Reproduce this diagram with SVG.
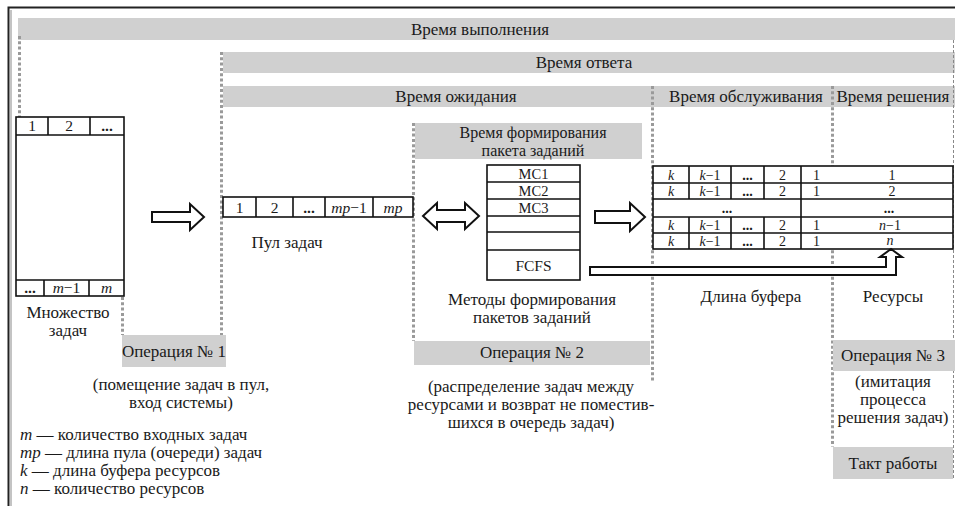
<svg xmlns="http://www.w3.org/2000/svg" width="955" height="506" viewBox="0 0 955 506">
<style>
text{font-family:"Liberation Serif","Times New Roman",serif;fill:#1a1a1a;font-size:17px}
.c{text-anchor:middle}
.s{font-size:15.5px}
.t{font-size:14px}
.m{font-size:14.5px}
.i{font-style:italic}
.b{font-weight:bold}
.bar{fill:#d0d0d0}
.dot{stroke:#9a9a9a;stroke-width:3;stroke-dasharray:3 2.3;fill:none}
.box{fill:#fff;stroke:#111;stroke-width:1.6}
.ln{stroke:#111;stroke-width:1.6;fill:none}
.arr{fill:#fff;stroke:#111;stroke-width:2;stroke-linejoin:miter}
</style>
<rect width="955" height="506" fill="#fff"/>
<!-- frame -->
<g id="frame">
<path d="M8.5,506 V7.5 H955" fill="none" stroke="#222" stroke-width="2"/>
<path d="M11,506 V10" fill="none" stroke="#888" stroke-width="1"/>
</g>
<!-- time bars -->
<g id="bar-execution">
<rect class="bar" x="18" y="18" width="937" height="22"/>
<text class="c" x="480" y="35">Время выполнения</text>
</g>
<g id="bar-response">
<rect class="bar" x="223" y="52" width="732" height="21"/>
<text class="c" x="584" y="68">Время ответа</text>
</g>
<g id="bar-wait">
<rect class="bar" x="223" y="86" width="732" height="21"/>
<text class="c" x="456" y="102">Время ожидания</text>
<text class="c" x="746" y="102">Время обслуживания</text>
<text class="c" x="893" y="102">Время решения</text>
</g>
<g id="bar-forming">
<rect class="bar" x="415" y="123" width="227" height="36"/>
<text class="c" x="533" y="138" style="font-size:16px">Время формирования</text>
<text class="c" x="533" y="156" style="font-size:16px">пакета заданий</text>
</g>
<!-- dotted guide lines -->
<g id="guides">
<line class="dot" x1="19.5" y1="36" x2="19.5" y2="117"/>
<line class="dot" x1="221.5" y1="52" x2="221.5" y2="335"/>
<line class="dot" x1="122.5" y1="297" x2="122.5" y2="335"/>
<line class="dot" x1="413.5" y1="123" x2="413.5" y2="341"/>
<line class="dot" x1="652.5" y1="86" x2="652.5" y2="382"/>
<line class="dot" x1="832.5" y1="86" x2="832.5" y2="447"/>
<line x1="953.5" y1="40" x2="953.5" y2="479" stroke="#888" stroke-width="1" stroke-dasharray="3 2"/>
</g>
<!-- task set -->
<g id="task-set">
<rect class="box" x="16" y="117" width="108" height="179"/>
<path class="ln" d="M16,135 H124 M48,117 V135 M90,117 V135 M16,280 H124 M44,280 V296 M89,280 V296"/>
<text class="c s" x="32" y="131">1</text>
<text class="c s" x="69" y="131">2</text>
<text class="c s b" x="107" y="131">...</text>
<text class="c s b" x="30" y="293">...</text>
<text class="c s" x="66.5" y="293"><tspan class="i">m</tspan>−1</text>
<text class="c s i" x="106.5" y="293">m</text>
<text class="c" x="68" y="318">Множество</text>
<text class="c" x="68" y="336">задач</text>
</g>
<!-- pool -->
<g id="pool">
<rect class="box" x="223" y="197" width="190" height="20"/>
<path class="ln" d="M256,197 V217 M293,197 V217 M325,197 V217 M373,197 V217"/>
<text class="c s" x="239.5" y="213">1</text>
<text class="c s" x="274.5" y="213">2</text>
<text class="c s b" x="309" y="213">...</text>
<text class="c s" x="349" y="213"><tspan class="i">mp</tspan>−1</text>
<text class="c s i" x="393" y="213">mp</text>
<text class="c" x="287" y="248">Пул задач</text>
</g>
<!-- methods -->
<g id="methods">
<rect class="box" x="487" y="165" width="93" height="115"/>
<path class="ln" d="M487,182 H580 M487,199 H580 M487,216 H580 M487,232 H580 M487,250 H580"/>
<text class="c m" x="533.5" y="178.5">MC1</text>
<text class="c m" x="533.5" y="195.5">MC2</text>
<text class="c m" x="533.5" y="212.5">MC3</text>
<text class="c s" x="533.5" y="271">FCFS</text>
<text class="c" x="532" y="305">Методы формирования</text>
<text class="c" x="532" y="323">пакетов заданий</text>
</g>
<!-- buffer / resources -->
<g id="buffer">
<rect class="box" x="653" y="166" width="300" height="83"/>
<path class="ln" d="M653,183 H953 M653,199 H953 M653,217 H953 M653,233 H953 M689,166 V199 M731,166 V199 M764,166 V199 M801,166 V249 M689,217 V249 M731,217 V249 M764,217 V249"/>
<text class="c t i" x="671" y="179.5">k</text><text class="c t" x="710" y="179.5"><tspan class="i">k</tspan>−1</text><text class="c t b" x="747.5" y="179.5">...</text><text class="c t" x="782.5" y="179.5">2</text><text class="c t" x="816.5" y="179.5">1</text><text class="c t" x="892" y="179.5">1</text>
<text class="c t i" x="671" y="195.5">k</text><text class="c t" x="710" y="195.5"><tspan class="i">k</tspan>−1</text><text class="c t b" x="747.5" y="195.5">...</text><text class="c t" x="782.5" y="195.5">2</text><text class="c t" x="816.5" y="195.5">1</text><text class="c t" x="892" y="195.5">2</text>
<text class="c t b" x="727" y="212.5">...</text><text class="c t b" x="889" y="212.5">...</text>
<text class="c t i" x="671" y="229.5">k</text><text class="c t" x="710" y="229.5"><tspan class="i">k</tspan>−1</text><text class="c t b" x="747.5" y="229.5">...</text><text class="c t" x="782.5" y="229.5">2</text><text class="c t" x="816.5" y="229.5">1</text><text class="c t" x="890" y="229.5"><tspan class="i">n</tspan>−1</text>
<text class="c t i" x="671" y="245.5">k</text><text class="c t" x="710" y="245.5"><tspan class="i">k</tspan>−1</text><text class="c t b" x="747.5" y="245.5">...</text><text class="c t" x="782.5" y="245.5">2</text><text class="c t" x="816.5" y="245.5">1</text><text class="c t i" x="890" y="245">n</text>
<text class="c" x="751" y="302">Длина буфера</text>
<text class="c" x="893" y="302">Ресурсы</text>
</g>
<!-- operations -->
<g id="op1">
<rect class="bar" x="122" y="335" width="104" height="32"/>
<text class="c" x="174" y="357">Операция № 1</text>
<text class="c" x="181" y="390">(помещение задач в пул,</text>
<text class="c" x="181" y="408">вход системы)</text>
</g>
<g id="op2">
<rect class="bar" x="414" y="341" width="236" height="24"/>
<text class="c" x="532" y="358">Операция № 2</text>
<text class="c" x="531" y="392">(распределение задач между</text>
<text class="c" x="531" y="410">ресурсами и возврат не поместив-</text>
<text class="c" x="531" y="428">шихся в очередь задач)</text>
</g>
<g id="op3">
<rect class="bar" x="833" y="340" width="122" height="31"/>
<text class="c" x="893" y="361">Операция № 3</text>
<text class="c" x="893" y="387">(имитация</text>
<text class="c" x="893" y="405">процесса</text>
<text class="c" x="893" y="423">решения задач)</text>
</g>
<g id="tact">
<rect class="bar" x="833" y="447" width="120" height="32"/>
<text class="c" x="893" y="469">Такт работы</text>
</g>
<!-- legend -->
<g id="legend">
<text x="20" y="440"><tspan class="i">m</tspan> — количество входных задач</text>
<text x="20" y="458"><tspan class="i">mp</tspan> — длина пула (очереди) задач</text>
<text x="20" y="476"><tspan class="i">k</tspan> — длина буфера ресурсов</text>
<text x="20" y="494"><tspan class="i">n</tspan> — количество ресурсов</text>
</g>
<!-- connectors -->
<g id="connectors">
<path class="arr" d="M152,212 L190,212 L190,204 L204,217 L190,230 L190,222 L152,222 Z"/>
<path class="arr" d="M423,216 L437,203 L437,210 L465,210 L465,203 L479,216 L465,229 L465,222 L437,222 L437,229 Z"/>
<path class="arr" d="M595,211 L630,211 L630,203 L645,217 L630,231 L630,223 L595,223 Z"/>
<path class="arr" d="M590,267 L886,267 L886,257 L880,257 L891,249 L902,257 L896,257 L896,275 L590,275 Z"/>
</g>
</svg>
